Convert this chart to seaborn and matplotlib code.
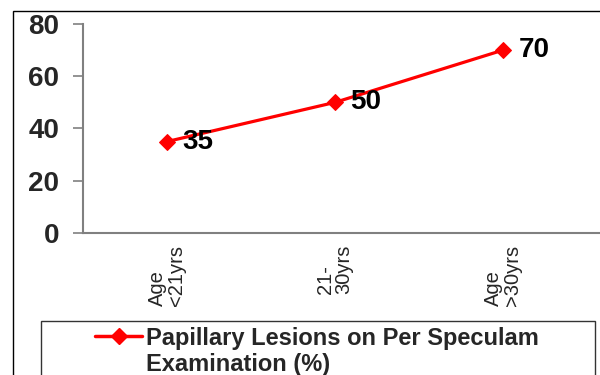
import matplotlib
matplotlib.use("Agg")
import matplotlib.pyplot as plt
from matplotlib.patches import Rectangle
from matplotlib.lines import Line2D
import seaborn as sns
import pandas as pd

# Age groups and percentage with papillary lesions
age_groups = ["Age\n<21yrs", "21-\n30yrs", "Age\n>30yrs"]
lesion_pct = [35, 50, 70]
y_ticks = [0, 20, 40, 60, 80]
series_label = ["Papillary Lesions on Per Speculam", "Examination (%)"]

sns.set_style("white")
plt.rcParams["font.family"] = ["Liberation Sans", "DejaVu Sans"]

W, H = 600, 375
fig = plt.figure(figsize=(W / 100, H / 100), dpi=100)
fig.patch.set_facecolor("white")

ax = fig.add_axes([83 / W, 1 - 233 / H, (W - 83) / W, (233 - 24) / H])

df = pd.DataFrame({"group": age_groups, "pct": lesion_pct})
sns.lineplot(data=df, x="group", y="pct", ax=ax, color="#FF0000",
             linewidth=2.3, marker="D", markersize=8.5,
             markeredgecolor="#FF0000", sort=False)

for i, v in enumerate(lesion_pct):
    ax.annotate(str(v), (i, v), xytext=(11, 0), textcoords="offset points",
                ha="left", va="center", fontsize=20, fontweight="bold",
                color="black")

ax.set_ylim(0, 80)
ax.set_xlim(-0.5, 2.5 + 13 / 168)
ax.set_yticks(y_ticks)
ax.set_yticklabels([str(t) for t in y_ticks], fontsize=20, fontweight="bold")
ax.set_xticks(range(len(age_groups)))
ax.set_xticklabels(age_groups, rotation=90, fontsize=14.5,
                   multialignment="left", linespacing=0.95)
ax.set_xticks([-0.5, 0.5, 1.5, 2.5], minor=True)
ax.tick_params(axis="x", which="major", length=0, pad=8.5)
ax.tick_params(axis="x", which="minor", length=5, width=1.2,
               color="#808080", direction="out")
ax.tick_params(axis="y", length=7, width=1.2, color="#808080",
               direction="out", pad=10, left=True)
ax.set_xlabel("")
ax.set_ylabel("")
for s in ["top", "right"]:
    ax.spines[s].set_visible(False)
for s in ["left", "bottom"]:
    ax.spines[s].set_color("#808080")
    ax.spines[s].set_linewidth(1.5)

# outer chart border
fig.patches.append(Rectangle((13 / W, -0.1), 1.2, 1 - 11 / H + 0.1,
                             transform=fig.transFigure, fill=False,
                             edgecolor="black", linewidth=1.0))
# legend border
fig.patches.append(Rectangle((41 / W, -0.1), (595 - 41) / W,
                             1 - 321 / H + 0.1, transform=fig.transFigure,
                             fill=False, edgecolor="#333333", linewidth=1.0))

handles = [Line2D([], [], color="#FF0000", linewidth=2.5, marker="D",
                  markersize=8),
           Line2D([], [], linestyle="none")]
fig.legend(handles, series_label, loc="upper left",
           bbox_to_anchor=(95 / W, 1 - 326.5 / H), frameon=False,
           prop={"size": 17, "weight": "bold"}, handlelength=2.0,
           handletextpad=0.15, labelspacing=0.15, borderpad=0,
           borderaxespad=0)

fig.savefig("out.png", dpi=100)
